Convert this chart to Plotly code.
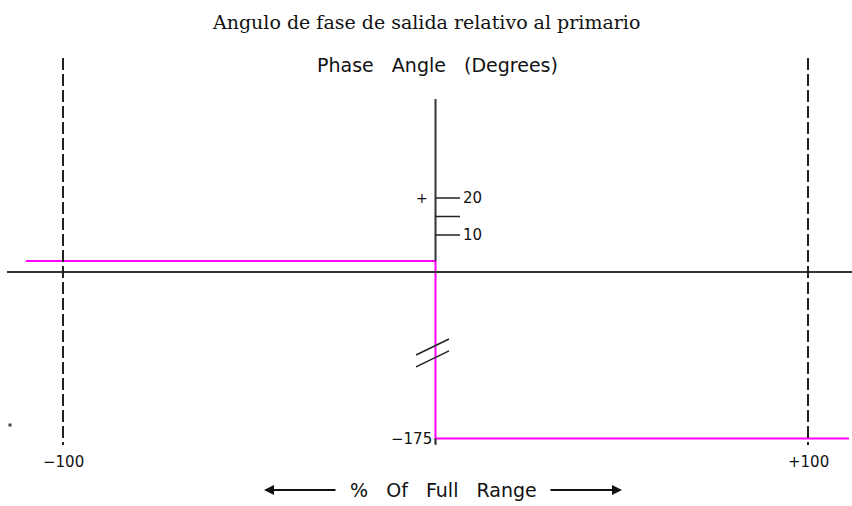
import plotly.graph_objects as go

# data (x in % of full range, phase in degrees)
step_x = [-110, 0, 0, 111]
step_phase = [3, 3, -175, -175]
guide_x = [-100, 100]
guide_labels = ["\u2212100", "+100"]
tick_vals = [10, 15, 20]
tick_text = ["10", "", "20"]
low_label = "\u2212175"

PX_PER_PCT = 745 / 200
PX_PER_DEG = 3.7
BREAK_SHIFT = 130  # values below the axis break are drawn shifted up


def disp(v):
    return v + BREAK_SHIFT if v < -100 else v


def px_x(px):
    return -100 + (px - 63) / PX_PER_PCT


def px_y(px):
    return (272 - px) / PX_PER_DEG


CAD = "DejaVu Sans"
fig = go.Figure()

# central phase axis (above the step)
fig.add_shape(type="line", x0=0, x1=0, y0=step_phase[0], y1=px_y(99),
              line=dict(color="#333", width=2))
# horizontal zero axis
fig.add_shape(type="line", x0=px_x(7), x1=px_x(852), y0=0, y1=0,
              line=dict(color="#333", width=2))
# dashed range limits
for gx in guide_x:
    fig.add_shape(type="line", x0=gx, x1=gx, y0=px_y(58), y1=px_y(445),
                  line=dict(color="#222", width=2, dash="12px,4px"))
# ticks on phase axis
for tv in tick_vals:
    fig.add_shape(type="line", x0=0, x1=px_x(460), y0=tv, y1=tv,
                  line=dict(color="#222", width=1.5))
# small tick at -175
fig.add_shape(type="line", x0=0, x1=0, y0=disp(-175), y1=disp(-175) - 1.7,
              line=dict(color="#222", width=2))

# step line
fig.add_trace(go.Scatter(
    x=step_x, y=[disp(v) for v in step_phase], mode="lines",
    line=dict(color="#ff00ff", width=2), hoverinfo="skip", showlegend=False,
))

# axis break marks
for off in [0, -3.2]:
    fig.add_shape(type="line", x0=px_x(416), x1=px_x(449),
                  y0=px_y(355) + off, y1=px_y(339) + off,
                  line=dict(color="#222", width=1.5))

# stray dot
fig.add_trace(go.Scatter(
    x=[px_x(10)], y=[px_y(425)], mode="markers",
    marker=dict(color="#444", size=3, symbol="square"),
    hoverinfo="skip", showlegend=False,
))

ann = []
for tv, tt in zip(tick_vals, tick_text):
    if tt:
        ann.append(dict(x=px_x(461), y=tv, text=tt, xanchor="left",
                        showarrow=False, font=dict(family=CAD, size=15, color="#111")))
ann.append(dict(x=0, y=20, text="+", xanchor="right", xshift=-6, showarrow=False,
                font=dict(family=CAD, size=14, color="#111")))
ann.append(dict(x=0, y=disp(-175), text=low_label, xanchor="right", xshift=-2,
                showarrow=False, font=dict(family=CAD, size=15, color="#111")))
for gx, gl in zip(guide_x, guide_labels):
    ann.append(dict(x=gx, y=px_y(462), text=gl, showarrow=False,
                    font=dict(family=CAD, size=15, color="#111")))
ann.append(dict(x=px_x(443), y=px_y(490), text="%   Of   Full   Range", showarrow=False,
                font=dict(family=CAD, size=19, color="#111")))
ann.append(dict(x=px_x(264), y=px_y(490), ax=px_x(337), ay=px_y(490),
                axref="x", ayref="y", text="", showarrow=True,
                arrowhead=2, arrowsize=1, arrowwidth=2, arrowcolor="#111"))
ann.append(dict(x=px_x(622), y=px_y(490), ax=px_x(549), ay=px_y(490),
                axref="x", ayref="y", text="", showarrow=True,
                arrowhead=2, arrowsize=1, arrowwidth=2, arrowcolor="#111"))
ann.append(dict(x=px_x(437), y=px_y(65), text="Phase   Angle   (Degrees)", showarrow=False,
                font=dict(family=CAD, size=19, color="#111")))
ann.append(dict(x=px_x(426), y=px_y(22), text="Angulo de fase de salida relativo al primario",
                showarrow=False, font=dict(family="DejaVu Serif", size=19, color="#111")))

fig.update_layout(
    width=852, height=506,
    margin=dict(l=0, r=0, t=0, b=0),
    paper_bgcolor="white", plot_bgcolor="white",
    xaxis=dict(range=[px_x(0), px_x(852)], visible=False, fixedrange=True),
    yaxis=dict(range=[px_y(506), px_y(0)], visible=False, fixedrange=True),
    annotations=ann,
    showlegend=False,
)

fig.write_html("out.html", config={"displayModeBar": False},
               post_script="document.body.style.margin='0';")
